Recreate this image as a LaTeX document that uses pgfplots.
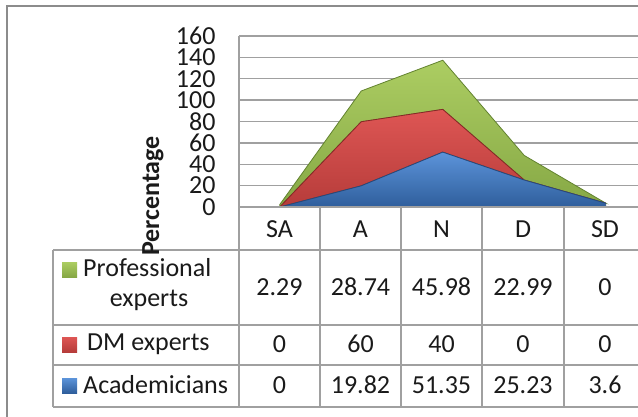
\documentclass[border=0pt]{standalone}
\usepackage{pgfplots}
\pgfplotsset{compat=1.18}
\usepackage{pgfplotstable}
\usepackage{fontspec}
\setmainfont{Carlito}
\definecolor{gridgray}{HTML}{A0A0A0}
\definecolor{framegray}{HTML}{8C8C8C}
\definecolor{blueT}{HTML}{5C94DA}
\definecolor{blueB}{HTML}{2F5E9C}
\definecolor{blueD}{HTML}{27497A}
\definecolor{redT}{HTML}{DE5654}
\definecolor{redB}{HTML}{B63C3A}
\definecolor{redD}{HTML}{862826}
\definecolor{grnT}{HTML}{ACCD62}
\definecolor{grnB}{HTML}{86A845}
\definecolor{grnD}{HTML}{62822F}
\definecolor{txt}{HTML}{1A1A1A}

\pgfplotstableread{
x acad dm prof
0 0 0 2.29
1 19.82 60 28.74
2 51.35 40 45.98
3 25.23 0 22.99
4 3.6 0 0
}\data

\newcommand{\tf}{\fontsize{26}{27}\selectfont}

\begin{document}
\begin{tikzpicture}[x=1pt,y=1pt]
\useasboundingbox (0,0) rectangle (638,416);
\clip (0,0) rectangle (638,416);
% outer frame
\draw[framegray, line width=2pt] (7,-10) -- (7,410) -- (650,410);
\begin{axis}[
  at={(239pt,209pt)}, anchor=south west,
  scale only axis, width=407.5pt, height=171pt,
  xmin=-0.5, xmax=4.5, ymin=0, ymax=160,
  ytick={0,20,...,160},
  ymajorgrids, grid style={gridgray, line width=1.3pt},
  axis x line=none, axis y line*=left,
  y axis line style={gridgray, line width=1.3pt, -},
  major tick length=0pt,
  yticklabel style={font=\tf, text=txt, xshift=-20pt},
  /pgf/number format/assume math mode=true,
  stack plots=y,
]
\addplot[draw=blueD, line width=0.8pt, top color=blueT, bottom color=blueB] table[x=x,y=acad]{\data} \closedcycle;
\addplot[draw=redD, line width=0.8pt, top color=redT, bottom color=redB] table[x=x,y=dm]{\data} \closedcycle;
\addplot[draw=grnD, line width=0.8pt, top color=grnT, bottom color=grnB] table[x=x,y=prof]{\data} \closedcycle;
\end{axis}
% table lines
\begin{scope}[gridgray, line width=1.3pt]
\draw (239,209) -- (650,209);
\draw (53,166) -- (650,166);
\draw (53,91) -- (650,91);
\draw (53,51) -- (650,51);
\draw (53,9) -- (650,9);
\draw (53,166) -- (53,9);
\draw (239,209) -- (239,9);
\foreach \xx in {320,401,482,564} \draw (\xx,209) -- (\xx,9);
\end{scope}
% y label
\node[rotate=90, font=\tf\bfseries, text=txt] at (153,220) {Percentage};
% header
\foreach \xx/\lab in {279.5/SA,360.5/A,441.5/N,523/D,605/SD}
  \node[font=\tf, text=txt] at (\xx,187) {\lab};
% values
\foreach \xx/\v in {279.5/2.29,360.5/28.74,441.5/45.98,523/22.99,605/0}
  \node[font=\tf, text=txt] at (\xx,129) {\v};
\foreach \xx/\v in {279.5/0,360.5/60,441.5/40,523/0,605/0}
  \node[font=\tf, text=txt] at (\xx,72) {\v};
\foreach \xx/\v in {279.5/0,360.5/19.82,441.5/51.35,523/25.23,605/3.6}
  \node[font=\tf, text=txt] at (\xx,31) {\v};
% legend markers
\shade[top color=grnT, bottom color=grnB] (62,139) rectangle (77,154);
\shade[top color=redT, bottom color=redB] (62,64) rectangle (77,79);
\shade[top color=blueT, bottom color=blueB] (62,23) rectangle (77,38);
% row labels
\node[font=\tf, text=txt, anchor=west, inner sep=0pt] at (83,148) {Professional};
\node[font=\tf, text=txt] at (149,116) {experts};
\node[font=\tf, text=txt, anchor=west, inner sep=0pt] at (87,72) {DM experts};
\node[font=\tf, text=txt, anchor=west, inner sep=0pt] at (83,31) {Academicians};
\end{tikzpicture}
\end{document}
